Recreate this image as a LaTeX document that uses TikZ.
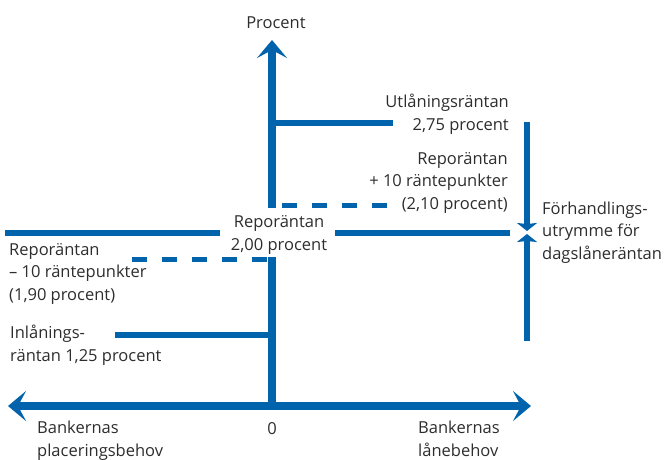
\documentclass[tikz,border=0pt]{standalone}
\usepackage{fontspec}
\setmainfont{Open Sans}
\usetikzlibrary{arrows.meta}
\definecolor{rb}{RGB}{0,99,172}
\definecolor{txt}{RGB}{45,45,45}
\begin{document}
\begin{tikzpicture}[x=1pt,y=-1pt,
  axis/.style={draw=rb, line width=8pt},
  bar/.style={draw=rb, line width=6pt},
  dline/.style={draw=rb, line width=5pt, dash pattern=on 15pt off 15pt},
  bigtip/.style={-{Stealth[length=18pt,width=30pt,inset=8pt]}},
  smalltip/.style={-{Stealth[length=8pt,width=20pt,inset=1pt]}},
  lbl/.style={font=\fontsize{16.5}{22.5}\selectfont, inner sep=0pt, text=txt}]
\useasboundingbox (0,0) rectangle (665,459);
% coordinates
\coordinate (o) at (272,406);
\coordinate (vtop) at (272,40);
\coordinate (vup) at (272,208);
\coordinate (vlow) at (272,257);
\coordinate (hl) at (8,406);
\coordinate (hr) at (531,406);
\coordinate (u1) at (268,123);
\coordinate (u2) at (393,123);
\coordinate (d1) at (282,205);
\coordinate (d2) at (388,205);
\coordinate (l1) at (132,259);
\coordinate (l2) at (268,259);
\coordinate (r1) at (5,233);
\coordinate (r2) at (220,233);
\coordinate (r3) at (335,233);
\coordinate (r4) at (510,233);
\coordinate (i1) at (115,335);
\coordinate (i2) at (268,335);
\coordinate (f1) at (527,122);
\coordinate (f2) at (527,231);
\coordinate (f3) at (527,341);
\coordinate (f4) at (527,234);
% axes
\draw[axis,bigtip] (vup) -- (vtop);
\draw[axis] (o) -- (vlow);
\draw[axis,bigtip] (o) -- (hl);
\draw[axis,bigtip] (o) -- (hr);
% rate lines
\draw[bar] (u1) -- (u2);
\draw[dline] (d1) -- (d2);
\draw[dline] (l1) -- (l2);
\draw[bar] (r1) -- (r2);
\draw[bar] (r3) -- (r4);
\draw[bar] (i1) -- (i2);
\draw[bar,smalltip] (f1) -- (f2);
\draw[bar,smalltip] (f3) -- (f4);
% labels (base anchor = baseline of last line)
\node[lbl,anchor=base] (procent) at (276,28) {Procent};
\node[lbl,anchor=base east,align=right] (utl) at (509,130) {Utlåningsräntan\\2,75 procent};
\node[lbl,anchor=base east,align=right] (repp) at (508,209) {Reporäntan\\+ 10 räntepunkter\\(2,10 procent)};
\node[lbl,anchor=base,align=center] (rep) at (279,250) {Reporäntan\\2,00 procent};
\node[lbl,anchor=base west,align=left] (repm) at (9,300) {Reporäntan\\– 10 räntepunkter\\(1,90 procent)};
\node[lbl,anchor=base west,align=left] (inl) at (10,361) {Inlånings-\\räntan 1,25 procent};
\node[lbl,anchor=base west,align=left] (forh) at (542,259) {Förhandlings-\\utrymme för\\dagslåneräntan};
\node[lbl,anchor=base west,align=left] (bp) at (37,456) {Bankernas\\placeringsbehov};
\node[lbl,anchor=base] (zero) at (272,434) {0};
\node[lbl,anchor=base west,align=left] (bl) at (418,456) {Bankernas\\lånebehov};
\end{tikzpicture}
\end{document}
